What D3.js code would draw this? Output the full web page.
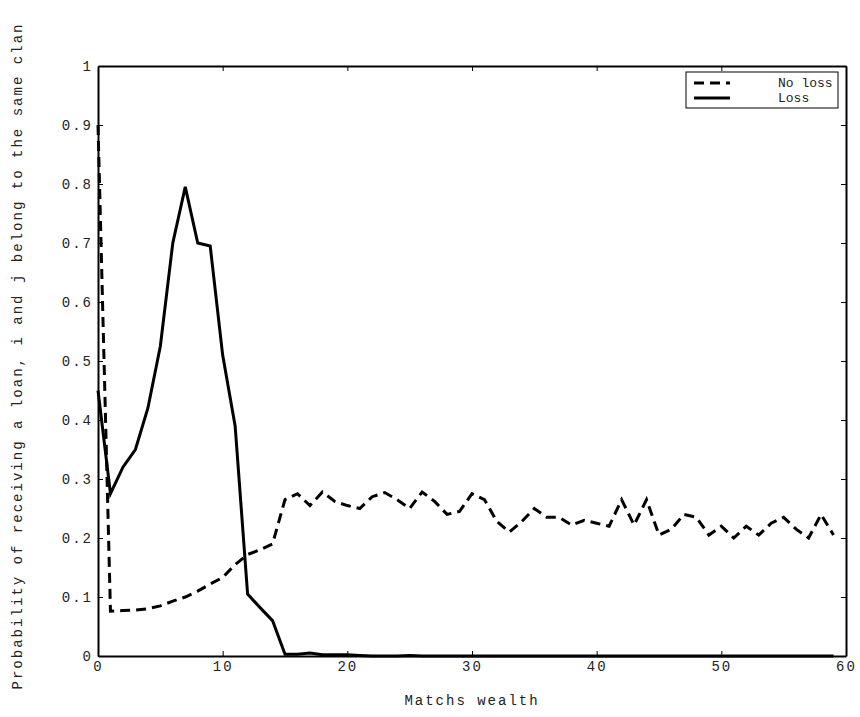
<!DOCTYPE html>
<html><head><meta charset="utf-8">
<script src="https://cdn.jsdelivr.net/npm/d3@7"></script>
<style>body{margin:0;background:#fff}text{font-family:"Liberation Mono",monospace;font-size:14px;fill:#222}</style>
</head><body>
<div id="chart"></div>
<script>
const WIDTH = 860, HEIGHT = 717;
const M = {left: 98, right: 14, top: 66, bottom: 61};

const wealth = d3.range(0, 60);
const noLoss = [0.9,0.076,0.077,0.078,0.08,0.085,0.093,0.1,0.11,0.122,0.133,0.155,0.172,0.18,0.19,0.265,0.275,0.255,0.278,0.262,
  0.255,0.25,0.27,0.277,0.265,0.25,0.278,0.262,0.24,0.245,0.275,0.265,0.228,0.21,0.228,0.25,0.235,0.235,0.222,0.23,
  0.225,0.22,0.265,0.222,0.265,0.205,0.215,0.24,0.235,0.205,0.22,0.2,0.22,0.205,0.225,0.235,0.215,0.2,0.24,0.205];
const loss = [0.45,0.275,0.32,0.35,0.42,0.525,0.7,0.795,0.7,0.695,0.51,0.39,0.105,0.082,0.06,0.003,0.003,0.005,0.002,0.002,
  0.002,0.001,0,0,0,0.001,0,0,0,0,0,0,0,0,0,0,0,0,0,0,0,0,0,0,0,0,0,0,0,0,0,0,0,0,0,0,0,0,0,0];
const xTicks = [0,10,20,30,40,50,60];
const yTicks = [0,0.1,0.2,0.3,0.4,0.5,0.6,0.7,0.8,0.9,1];

const svg = d3.select("#chart").append("svg").attr("width", WIDTH).attr("height", HEIGHT);
const x = d3.scaleLinear().domain([0, 60]).range([M.left, WIDTH - M.right]);
const y = d3.scaleLinear().domain([0, 1]).range([HEIGHT - M.bottom, M.top]);

// axes with inward ticks on all four sides
svg.append("g").attr("transform", `translate(0,${y(0)})`)
  .call(d3.axisBottom(x).tickValues(xTicks).tickSizeInner(-5).tickSizeOuter(0).tickPadding(5));
svg.append("g").attr("transform", `translate(0,${y(1)})`)
  .call(d3.axisTop(x).tickValues(xTicks).tickSizeInner(-5).tickSizeOuter(0).tickFormat(""));
svg.append("g").attr("transform", `translate(${x(0)},0)`)
  .call(d3.axisLeft(y).tickValues(yTicks).tickSizeInner(-5).tickSizeOuter(0).tickPadding(5).tickFormat(d3.format("~g")));
svg.append("g").attr("transform", `translate(${x(60)},0)`)
  .call(d3.axisRight(y).tickValues(yTicks).tickSizeInner(-5).tickSizeOuter(0).tickFormat(""));
svg.selectAll(".domain").attr("stroke", "#000").attr("stroke-width", 2);
svg.selectAll(".tick line").attr("stroke", "#000");
svg.selectAll(".tick text").attr("fill", "#333").style("font-size", "14px").style("letter-spacing", "2px");

const line = d3.line().x((d, i) => x(wealth[i])).y(d => y(d));
svg.append("path").datum(noLoss).attr("d", line).attr("fill", "none")
  .attr("stroke", "#000").attr("stroke-width", 3).attr("stroke-dasharray", "10,6");
svg.append("path").datum(loss).attr("d", line).attr("fill", "none")
  .attr("stroke", "#000").attr("stroke-width", 3);

svg.append("text").attr("x", (x(0) + x(60)) / 2).attr("y", 705).attr("text-anchor", "middle")
  .style("letter-spacing", "2px").text("Matchs wealth");
svg.append("text").attr("transform", "translate(22,357) rotate(-90)")
  .attr("text-anchor", "middle").attr("textLength", 665).attr("lengthAdjust", "spacing")
  .text("Probability of receiving a loan, i and j belong to the same clan");

// legend
const lg = svg.append("g").attr("transform", "translate(686,72)");
lg.append("rect").attr("width", 152).attr("height", 36).attr("fill", "#fff").attr("stroke", "#000");
[["No loss", "10,6"], ["Loss", null]].forEach(([name, dash], i) => {
  const yy = 11 + i * 15;
  lg.append("line").attr("x1", 8).attr("x2", 44).attr("y1", yy).attr("y2", yy)
    .attr("stroke", "#000").attr("stroke-width", 3).attr("stroke-dasharray", dash);
  lg.append("text").attr("x", 92).attr("y", yy + 4).style("font-size", "13px").text(name);
});
</script>
</body></html>
